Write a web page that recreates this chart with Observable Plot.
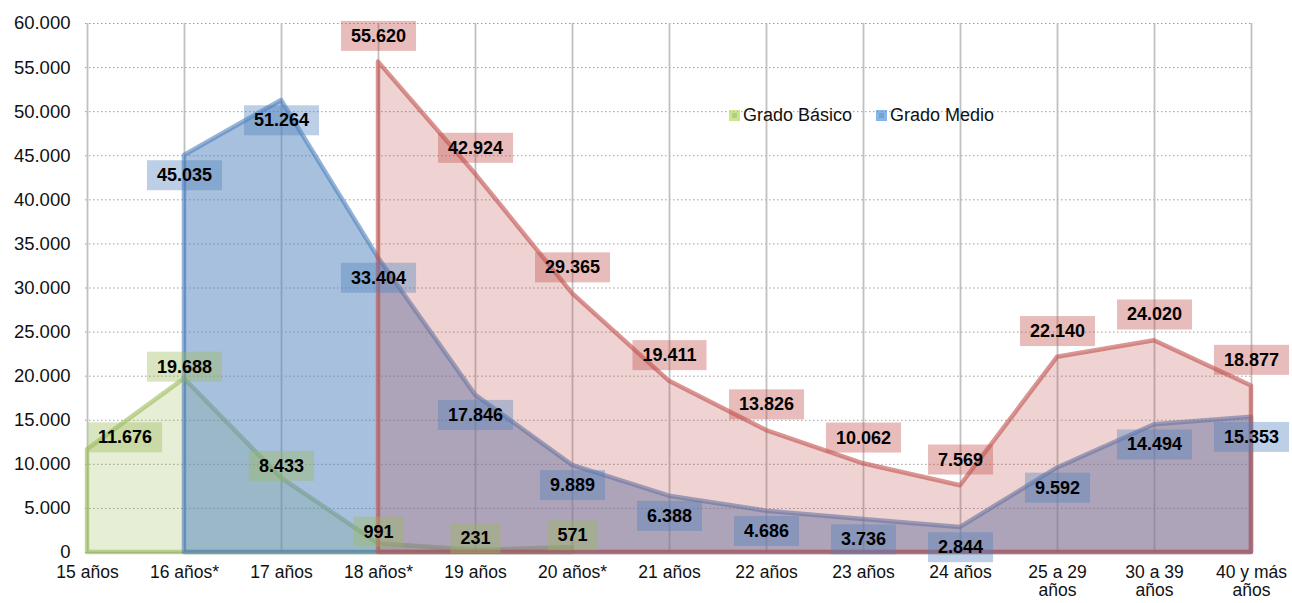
<!DOCTYPE html>
<html>
<head>
<meta charset="utf-8">
<script src="https://cdn.jsdelivr.net/npm/d3@7"></script>
<script src="https://cdn.jsdelivr.net/npm/@observablehq/plot@0.6"></script>
<style>
  html, body { margin: 0; padding: 0; background: #fff; }
  #wrap { position: relative; width: 1292px; height: 603px; font-family: "Liberation Sans", Arial, sans-serif; }
  #legend { position: absolute; top: 105px; left: 729px; font-size: 18px; color: #111; display: flex; gap: 24px; align-items: center; white-space: nowrap; }
  #legend .item { display: flex; align-items: center; }
  #legend .sw { display: inline-block; width: 11px; height: 11px; margin-right: 3px; box-sizing: border-box; }
</style>
</head>
<body>
<div id="wrap"><div id="chart"></div>
  <div id="legend"></div>
</div>
<script>
// ---- data ----
const categories = ["15 años","16 años*","17 años","18 años*","19 años","20 años*","21 años","22 años","23 años","24 años","25 a 29\naños","30 a 39\naños","40 y más\naños"];
const gradoBasico   = [11676, 19688, 8433, 991, 231, 571, null, null, null, null, null, null, null];
const gradoMedio    = [null, 45035, 51264, 33404, 17846, 9889, 6388, 4686, 3736, 2844, 9592, 14494, 15353];
const gradoSuperior = [null, null, null, 55620, 42924, 29365, 19411, 13826, 10062, 7569, 22140, 24020, 18877];
const yTicks = [0, 5000, 10000, 15000, 20000, 25000, 30000, 35000, 40000, 45000, 50000, 55000, 60000];
const legendNames = ["Grado Básico", "Grado Medio"];

const colors = { basico: "#9bbb59", medio: "#4f81bd", superior: "#c0504d" };

const fmt = d3.formatLocale({ decimal: ",", thousands: ".", grouping: [3], currency: ["", ""] }).format(",");

function rows(values) {
  return categories.map((c, i) => ({ cat: c, value: values[i] })).filter(d => d.value != null);
}
const series = [
  { key: "basico", data: rows(gradoBasico), dy: -12 },
  { key: "medio", data: rows(gradoMedio), dy: 20 },
  { key: "superior", data: rows(gradoSuperior), dy: -26 }
];

const marks = [
  Plot.ruleY(yTicks.filter(v => v > 0), { stroke: "#9a9a9a", strokeWidth: 1, strokeDasharray: "1.5,2.5" }),
  Plot.ruleX(categories, { x: d => d, stroke: "#c0c0c0", strokeWidth: 1.8 }),
  Plot.ruleY([0], { stroke: "#b0b0b0", strokeWidth: 1.6 }),
  Plot.axisY({ ticks: yTicks, tickFormat: fmt, tickSize: 0, tickPadding: 15, fontSize: 18.5, fill: "#111" }),
  Plot.axisX({ tickSize: 0, tickPadding: 12, fontSize: 17.5, lineHeight: 1.05, fill: "#111" })
];
for (const s of series) {
  marks.push(Plot.areaY(s.data, {
    x: "cat", y: "value", fill: colors[s.key],
    fillOpacity: s.key === "medio" ? 0.5 : 0.25,
    stroke: colors[s.key], strokeOpacity: 0.6, strokeWidth: 4.5, strokeLinejoin: "round"
  }));
}
for (const s of series) {
  marks.push(Plot.text(s.data, {
    x: "cat", y: "value", text: d => fmt(d.value), dy: s.dy,
    fill: "#000", fontWeight: "bold", fontSize: 18,
    ariaDescription: "lbl-" + s.key
  }));
}

const chart = Plot.plot({
  width: 1292,
  height: 603,
  marginLeft: 85,
  marginRight: 39,
  marginTop: 23,
  marginBottom: 51,
  style: { fontFamily: "'Liberation Sans', Arial, sans-serif", fontSize: "15.5px", color: "#111", background: "#fff" },
  x: { type: "point", domain: categories, padding: 0, label: null },
  y: { domain: [0, 60000], label: null },
  marks
});
document.getElementById("chart").appendChild(chart);

// label background boxes
const plotLeft = 85;
const svgRect = chart.getBoundingClientRect();
for (const s of series) {
  const g = chart.querySelector(`g[aria-description="lbl-${s.key}"]`);
  if (!g) continue;
  g.querySelectorAll("text").forEach(t => {
    const padX = 10, padY = 5;
    const cr = t.getBoundingClientRect();
    const left = cr.left - svgRect.left - padX;
    if (left < plotLeft + 3) {
      const shift = plotLeft + 3 - left;
      const tr = t.getAttribute("transform") || "";
      t.setAttribute("transform", `translate(${shift},0) ` + tr);
    }
    const r = document.createElementNS("http://www.w3.org/2000/svg", "rect");
    g.insertBefore(r, t);
    const bb = t.getBBox();
    const tr2 = t.getAttribute("transform");
    if (tr2) r.setAttribute("transform", tr2);
    r.setAttribute("x", bb.x - padX);
    r.setAttribute("y", bb.y - padY);
    r.setAttribute("width", bb.width + 2 * padX);
    r.setAttribute("height", bb.height + 2 * padY);
    r.setAttribute("fill", colors[s.key]);
    r.setAttribute("fill-opacity", 0.38);
  });
}

// legend
const legend = document.getElementById("legend");
[["basico", legendNames[0]], ["medio", legendNames[1]]].forEach(([k, name]) => {
  const item = document.createElement("span");
  item.className = "item";
  const sw = document.createElement("span");
  sw.className = "sw";
  sw.style.background = colors[k];
  sw.style.opacity = 0.75;
  sw.style.border = "3px solid " + d3.color(colors[k]).brighter(0.5);
  item.appendChild(sw);
  item.appendChild(document.createTextNode(name));
  legend.appendChild(item);
});
</script>
</body>
</html>
